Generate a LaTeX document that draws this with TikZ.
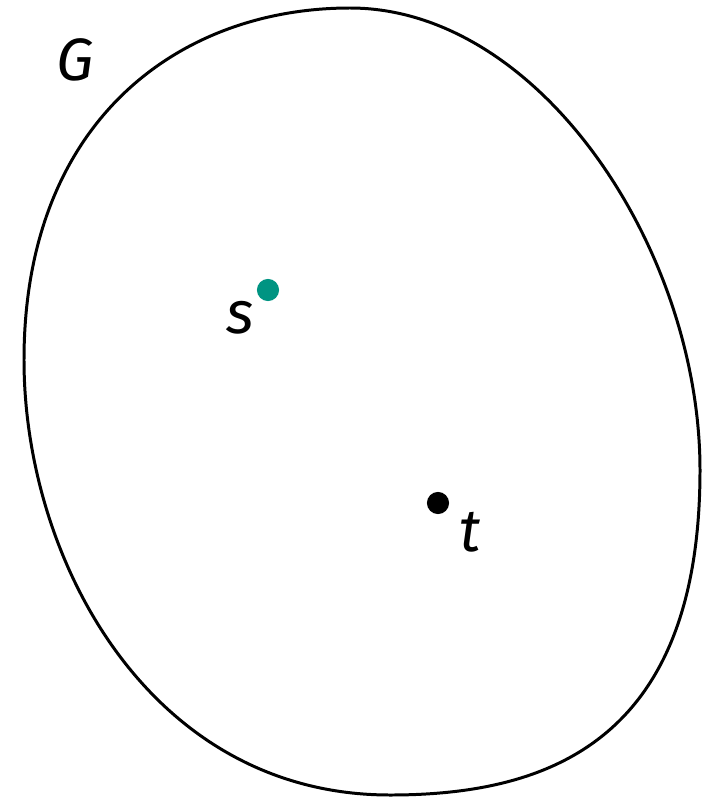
\documentclass[tikz,border=0pt]{standalone}
\usepackage{fontspec}
\setmainfont{Fira Sans}
\usepackage{tikz}
\usetikzlibrary{positioning}
\usepackage{xcolor}
\definecolor{srcteal}{HTML}{009482}

\begin{document}
\begin{tikzpicture}[x=0.01cm,y=-0.01cm,
    vertex/.style={circle,inner sep=0pt,minimum size=6.3pt},
    lbl/.style={font=\fontsize{17}{20}\selectfont\itshape,inner sep=0pt}]
    \useasboundingbox (0,0) rectangle (708,797);
    % the graph G
    \draw[line width=0.85pt] (350,8)
        .. controls (540,8) and (700,250) .. (700,470)
        .. controls (700,740) and (550,795) .. (390,795)
        .. controls (150,795) and (24,560) .. (24,360)
        .. controls (24,120) and (180,8) .. (350,8) -- cycle;
    \node[lbl] (glbl) at (75,60) {G};
    % the two vertices
    \node[vertex,fill=srcteal] (s) at (268,290) {};
    \node[vertex,fill=black] (t) at (438,503) {};
    \node[lbl] (slbl) at (240,318) {s};
    \node[lbl] (tlbl) at (470,532) {t};
\end{tikzpicture}
\end{document}
